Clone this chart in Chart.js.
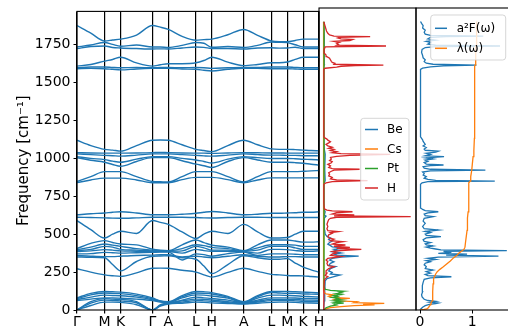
<!DOCTYPE html>
<html>
<head>
<meta charset="utf-8">
<script src="https://cdn.jsdelivr.net/npm/chart.js@4/dist/chart.umd.min.js"></script>
<style>
html,body{margin:0;padding:0;background:#fff;overflow:hidden;width:508px;height:330px;}
canvas{position:absolute;top:0;}
#c1{left:0;}
#c2{left:309px;}
#c3{left:406px;}
</style>
</head>
<body>
<canvas id="c1" width="340" height="330"></canvas>
<canvas id="c2" width="117" height="330"></canvas>
<canvas id="c3" width="110" height="330"></canvas>
<script>
// ---------- k-path (x values of the band structure) ----------
const kPath = [0, 0.5774, 1.1547, 1.4881, 1.8214, 2.4881, 3.1547, 3.4856, 3.8164, 4.3938, 4.9711, 5.3045, 5.6378, 6.3045, 6.9711, 7.5485, 8.1258, 8.4567, 8.7875, 9.1209, 9.4542, 9.7851, 10.1159];
const hsPos = [0, 1.1547, 1.8214, 3.1547, 3.8164, 4.9711, 5.6378, 6.9711, 8.1258, 8.7875, 9.4542, 10.1159];
const hsLabels = ['Γ','M','K','Γ','A','L','H','A','L','M','K','H'];
const freqTicks = [0, 250, 500, 750, 1000, 1250, 1500, 1750];
const lambdaTicks = [0, 1];

// ---------- phonon bands (cm^-1) at each kPath point ----------
const t1 = [1877,1827,1775,1781,1787,1814,1877,1866,1851,1805,1780,1784,1787,1816,1851,1812,1775,1770,1770,1778,1787,1787,1787];
const t2 = [1735,1748,1765,1752,1740,1748,1735,1735,1732,1746,1765,1760,1733,1738,1732,1746,1768,1766,1764,1750,1735,1735,1735];
const t3 = [1725,1738,1742,1732,1729,1725,1722,1723,1722,1729,1735,1733,1725,1725,1722,1729,1730,1728,1729,1733,1725,1725,1725];
const t4 = [1609,1620,1642,1653,1668,1630,1609,1618,1625,1625,1631,1646,1668,1635,1612,1620,1631,1631,1636,1653,1668,1668,1668];
const t5 = [1598,1603,1603,1600,1598,1600,1598,1600,1600,1598,1600,1598,1594,1598,1600,1600,1603,1603,1603,1600,1598,1598,1598];
const t6 = [1592,1594,1592,1588,1584,1590,1594,1595,1595,1590,1588,1582,1577,1588,1595,1594,1592,1592,1592,1590,1588,1588,1588];

const g1 = [1120,1085,1060,1055,1048,1085,1120,1122,1120,1090,1060,1052,1045,1085,1120,1090,1063,1060,1060,1058,1055,1052,1050];
const g2 = [1038,1036,1035,1035,1035,1036,1038,1040,1038,1036,1035,1035,1033,1036,1038,1037,1036,1036,1035,1035,1035,1035,1035];
const g3 = [1030,1025,1020,1018,1015,1022,1030,1030,1030,1025,1020,1017,1015,1022,1030,1025,1022,1022,1020,1020,1018,1018,1017];
const g4 = [1012,1000,992,982,975,995,1012,1012,1012,1000,990,980,970,995,1012,1005,1000,1000,1000,998,995,993,990];
const g5 = [1005,988,975,960,948,980,1005,1005,1005,985,962,952,940,980,1005,990,975,975,975,972,968,962,957];
const g6 = [848,880,913,913,913,880,848,846,845,880,913,913,913,880,845,880,913,913,913,913,915,918,920];
const g7 = [840,858,870,870,870,858,840,840,840,860,875,875,875,860,840,858,872,872,872,872,872,872,872];

const c1b = [628,635,640,645,648,640,628,628,628,632,638,645,650,640,628,632,638,638,640,642,645,645,648];
const c2b = [612,610,608,606,605,608,612,612,612,612,610,608,607,610,612,612,610,610,610,610,610,610,610];
const c3b = [590,530,475,500,520,505,590,578,565,515,472,500,520,505,565,515,475,475,478,500,520,520,520];
const c4b = [405,440,458,445,435,430,402,395,392,430,462,445,428,415,392,430,462,462,462,455,448,448,450];
const c5b = [398,415,435,428,420,405,395,392,390,405,430,425,413,405,390,410,430,430,430,428,420,420,420];
const c6b = [392,400,420,415,400,395,390,389,388,390,420,410,395,395,388,395,420,420,420,410,400,400,400];
const c7b = [385,390,398,395,390,388,385,385,385,375,400,392,388,388,385,375,400,400,398,392,388,388,390];
const c8b = [370,372,380,378,375,378,380,382,382,330,370,365,355,372,382,360,370,370,370,368,365,365,365];
const c9b = [360,355,352,352,355,360,362,365,365,350,355,350,345,355,365,355,350,350,352,352,350,350,350];
const c10b = [350,348,345,300,258,320,355,356,358,345,335,290,240,300,358,345,335,335,340,310,283,265,250];
const c11b = [272,250,232,226,222,245,275,276,275,262,250,232,217,248,275,255,235,232,228,226,225,221,217];

const l1 = [80,110,122,120,118,105,80,60,55,95,122,120,115,90,55,95,122,122,122,120,118,116,113];
const l2 = [74,100,112,110,108,95,74,58,52,88,112,110,106,85,52,88,115,112,110,110,106,105,104];
const l3 = [68,85,98,96,94,85,68,56,50,80,100,98,92,78,50,78,98,98,96,94,90,88,86];
const l4 = [62,72,80,80,78,72,62,52,48,65,85,80,76,65,48,65,80,80,80,79,77,76,76];
const l5 = [0,55,75,72,70,55,0,35,45,60,72,70,66,55,45,58,70,70,70,69,66,65,64];
const l6 = [0,45,65,63,60,48,0,30,42,52,62,60,57,48,42,52,62,62,62,60,57,56,55];
const l7 = [0,30,52,52,50,35,0,25,40,45,52,50,47,43,40,45,50,52,52,50,47,46,45];

const bandList = [t1,t2,t3,t4,t5,t6,g1,g2,g3,g4,g5,g6,g7,c1b,c2b,c3b,c4b,c5b,c6b,c7b,c8b,c9b,c10b,c11b,l1,l2,l3,l4,l5,l6,l7];

// ---------- projected phonon DOS: [frequency, DOS] ----------
const beDos = [[0,0],[20,0.004],[60,0.01],[120,0.015],[190,0.02],[205,0.04],[217,0.12],[228,0.19],[235,0.08],[245,0.1],[255,0.06],[270,0.08],[283,0.14],[290,0.06],[304,0.08],[315,0.12],[326,0.07],[337,0.1],[345,0.2],[352,0.4],[358,0.15],[365,0.12],[372,0.2],[380,0.1],[390,0.15],[396,0.12],[404,0.25],[412,0.1],[420,0.08],[430,0.05],[440,0.07],[450,0.1],[460,0.06],[470,0.08],[480,0.04],[495,0.02],[520,0.015],[560,0.01],[600,0.012],[612,0.03],[620,0.01],[640,0.02],[660,0.005],[820,0.003],[844,0.02],[918,0.015],[1015,0.02],[1050,0.01],[1130,0.003],[1590,0.003],[1598,0.01],[1722,0.01],[1783,0.008],[1880,0.002]];
const csDos = [[0,0],[8,0.03],[15,0.08],[22,0.2],[28,0.35],[33,0.58],[38,0.45],[43,0.69],[48,0.35],[54,0.38],[60,0.15],[66,0.12],[72,0.2],[76,0.3],[82,0.1],[90,0.06],[98,0.11],[105,0.03],[115,0.01],[130,0.004],[1880,0.002]];
const ptDos = [[0,0],[5,0.01],[15,0.03],[25,0.08],[33,0.15],[40,0.12],[45,0.23],[50,0.14],[54,0.2],[60,0.12],[65,0.21],[70,0.14],[76,0.17],[82,0.1],[88,0.16],[95,0.12],[100,0.2],[106,0.14],[112,0.21],[118,0.18],[122,0.23],[128,0.08],[135,0.02],[150,0.01],[200,0.008],[400,0.007],[650,0.007],[1000,0.007],[1880,0.007]];
const hDos = [[0,0],[20,0.003],[60,0.005],[120,0.006],[190,0.01],[205,0.02],[217,0.05],[225,0.02],[240,0.04],[255,0.03],[270,0.06],[283,0.12],[290,0.05],[304,0.04],[315,0.05],[326,0.03],[337,0.05],[348,0.2],[356,0.08],[364,0.1],[372,0.15],[381,0.1],[388,0.2],[396,0.43],[402,0.15],[409,0.3],[416,0.12],[424,0.25],[430,0.1],[440,0.15],[446,0.22],[452,0.08],[462,0.12],[470,0.06],[480,0.05],[490,0.06],[500,0.1],[505,0.08],[511,0.17],[518,0.05],[530,0.04],[545,0.05],[560,0.04],[575,0.05],[590,0.06],[598,0.08],[605,0.15],[609,0.99],[614,0.12],[620,0.35],[626,0.1],[635,0.15],[641,0.33],[646,0.1],[652,0.04],[660,0.01],[700,0.005],[820,0.005],[830,0.03],[838,0.1],[844,0.5],[848,0.15],[855,0.08],[865,0.1],[875,0.06],[885,0.07],[895,0.06],[905,0.09],[913,0.12],[918,0.41],[922,0.1],[930,0.06],[940,0.08],[950,0.05],[960,0.09],[968,0.1],[975,0.07],[985,0.09],[995,0.08],[1002,0.15],[1008,0.3],[1015,0.76],[1020,0.2],[1026,0.1],[1033,0.15],[1040,0.08],[1048,0.12],[1055,0.06],[1062,0.1],[1070,0.05],[1080,0.03],[1090,0.06],[1098,0.08],[1108,0.05],[1115,0.04],[1125,0.01],[1135,0.005],[1570,0.005],[1577,0.02],[1584,0.15],[1590,0.2],[1594,0.36],[1598,0.68],[1603,0.12],[1609,0.13],[1615,0.1],[1622,0.09],[1631,0.08],[1642,0.07],[1653,0.04],[1664,0.03],[1675,0.01],[1700,0.008],[1716,0.02],[1722,0.71],[1727,0.15],[1733,0.17],[1740,0.15],[1746,0.18],[1752,0.12],[1758,0.3],[1764,0.33],[1768,0.2],[1775,0.16],[1779,0.18],[1783,0.53],[1787,0.12],[1794,0.07],[1805,0.05],[1820,0.035],[1840,0.025],[1860,0.015],[1880,0.006]];

// ---------- Eliashberg function and lambda: [frequency, value] ----------
const a2f = [[0,0],[8,0.02],[18,0.05],[28,0.1],[36,0.18],[42,0.3],[46,0.35],[50,0.2],[56,0.3],[62,0.15],[70,0.08],[85,0.04],[100,0.03],[120,0.05],[140,0.04],[160,0.05],[180,0.06],[200,0.08],[210,0.2],[217,0.6],[224,0.15],[232,0.1],[240,0.2],[250,0.12],[261,0.25],[270,0.1],[283,0.12],[295,0.08],[305,0.1],[315,0.2],[322,0.12],[330,0.3],[337,0.15],[345,0.35],[352,1.5],[358,0.5],[364,0.9],[370,0.35],[376,0.6],[382,0.45],[387,1.66],[392,0.4],[398,0.3],[404,0.2],[410,0.12],[418,0.25],[425,0.12],[432,0.1],[440,0.2],[448,0.08],[458,0.06],[470,0.12],[478,0.4],[486,0.12],[495,0.1],[505,0.2],[512,0.1],[522,0.35],[530,0.08],[545,0.05],[565,0.1],[580,0.06],[598,0.08],[609,0.25],[615,0.1],[625,0.08],[634,0.15],[641,0.35],[648,0.1],[656,0.05],[665,0.015],[700,0.01],[820,0.01],[830,0.04],[837,0.15],[841,1.43],[846,0.3],[852,0.15],[860,0.08],[870,0.12],[880,0.06],[890,0.08],[900,0.05],[908,0.2],[913,1.25],[918,0.2],[926,0.08],[935,0.06],[942,0.2],[946,0.45],[952,0.12],[962,0.08],[970,0.15],[978,0.1],[985,0.25],[992,0.12],[1000,0.46],[1006,0.1],[1015,0.2],[1022,0.12],[1030,0.3],[1036,0.35],[1042,0.1],[1050,0.08],[1060,0.12],[1070,0.06],[1080,0.1],[1090,0.08],[1100,0.06],[1110,0.05],[1120,0.03],[1130,0.01],[1570,0.01],[1578,0.05],[1586,0.2],[1592,0.45],[1598,1.08],[1603,0.25],[1610,0.12],[1620,0.08],[1632,0.1],[1645,0.06],[1660,0.05],[1680,0.03],[1700,0.04],[1712,0.1],[1718,0.3],[1722,1.53],[1727,0.3],[1735,0.15],[1745,0.2],[1752,0.12],[1760,0.3],[1768,0.15],[1778,0.2],[1783,0.5],[1787,1.21],[1792,0.2],[1800,0.1],[1812,0.08],[1825,0.1],[1840,0.05],[1855,0.06],[1870,0.03],[1882,0.01]];
const lam = [[0,0],[4,0.08],[8,0.13],[15,0.16],[25,0.18],[35,0.2],[45,0.21],[60,0.23],[80,0.24],[120,0.245],[170,0.25],[205,0.26],[220,0.28],[235,0.3],[250,0.33],[265,0.38],[280,0.44],[300,0.51],[320,0.58],[340,0.64],[355,0.7],[370,0.74],[385,0.8],[395,0.84],[410,0.86],[440,0.87],[480,0.885],[520,0.9],[560,0.905],[600,0.91],[640,0.92],[660,0.93],[830,0.935],[841,0.96],[870,0.97],[913,0.99],[950,1.0],[1000,1.015],[1040,1.03],[1120,1.04],[1590,1.045],[1600,1.06],[1720,1.065],[1725,1.075],[1790,1.08],[1882,1.085]];

// ---------- helpers / plugins ----------
const FONT = 'DejaVu Sans';
const toXY = (pairs) => pairs.map(p => ({x: p[1], y: p[0]}));

const framePlugin = {
  id: 'frame',
  afterDraw(chart) {
    const {ctx, chartArea: a} = chart;
    ctx.save();
    ctx.strokeStyle = '#000';
    ctx.lineWidth = 1.1;
    ctx.strokeRect(a.left, a.top, a.right - a.left, a.bottom - a.top);
    ctx.restore();
  }
};

const mplLegend = {
  id: 'mplLegend',
  afterDraw(chart, args, o) {
    if (!o || !o.display) return;
    const ctx = chart.ctx, a = chart.chartArea;
    const x0 = a.left + o.x, y0 = a.top + o.y, w = o.w, h = o.h, r = 3;
    ctx.save();
    ctx.beginPath();
    ctx.moveTo(x0 + r, y0);
    ctx.arcTo(x0 + w, y0, x0 + w, y0 + h, r);
    ctx.arcTo(x0 + w, y0 + h, x0, y0 + h, r);
    ctx.arcTo(x0, y0 + h, x0, y0, r);
    ctx.arcTo(x0, y0, x0 + w, y0, r);
    ctx.closePath();
    ctx.fillStyle = 'rgba(255,255,255,0.8)';
    ctx.fill();
    ctx.strokeStyle = 'rgba(204,204,204,0.8)';
    ctx.lineWidth = 1;
    ctx.stroke();
    ctx.font = o.fontSize + 'px "' + FONT + '"';
    ctx.textBaseline = 'middle';
    ctx.textAlign = 'left';
    chart.data.datasets.forEach((ds, i) => {
      const cy = y0 + o.first + i * o.gap;
      ctx.strokeStyle = ds.borderColor;
      ctx.lineWidth = 1.5;
      ctx.beginPath();
      ctx.moveTo(x0 + o.hx, cy);
      ctx.lineTo(x0 + o.hx + o.hl, cy);
      ctx.stroke();
      ctx.fillStyle = '#000';
      ctx.fillText(ds.label, x0 + o.tx, cy + 0.5);
    });
    ctx.restore();
  }
};

const common = {
  responsive: false,
  animation: false,
  events: [],
  elements: { point: { radius: 0 } }
};

// ---------- panel 1: band structure ----------
new Chart(document.getElementById('c1'), {
  type: 'scatter',
  data: {
    datasets: bandList.map(b => ({
      data: b.map((f, i) => ({x: kPath[i], y: f})),
      showLine: true,
      borderColor: '#1f77b4',
      borderWidth: 1.4,
      pointRadius: 0,
      cubicInterpolationMode: 'monotone',
      fill: false
    }))
  },
  options: Object.assign({}, common, {
    layout: { padding: {left: 0, top: 8, right: 21, bottom: 0}, autoPadding: false },
    plugins: { legend: {display: false}, tooltip: {enabled: false} },
    scales: {
      x: {
        type: 'linear', min: 0, max: hsPos[hsPos.length - 1], z: 1,
        afterBuildTicks: s => { s.ticks = hsPos.map(v => ({value: v})); },
        afterFit: s => { s.height = 20; },
        grid: {color: '#000', lineWidth: 1.2, tickLength: 3.5, drawTicks: true, drawOnChartArea: true},
        border: {display: false},
        ticks: {callback: (v, i) => hsLabels[i], autoSkip: false, maxRotation: 0, padding: 0, color: '#000', font: {family: FONT, size: 14}}
      },
      y: {
        type: 'linear', min: 0, max: 1970,
        afterBuildTicks: s => { s.ticks = freqTicks.map(v => ({value: v})); },
        afterFit: s => { s.width = 77; },
        grid: {color: '#000', lineWidth: 1, tickLength: 3.5, drawOnChartArea: false},
        border: {display: false},
        ticks: {callback: v => String(v), color: '#000', padding: 3, font: {family: FONT, size: 14}},
        title: {display: true, text: 'Frequency [cm⁻¹]', color: '#000', font: {family: FONT, size: 15}, padding: {top: 15, bottom: 0}}
      }
    }
  }),
  plugins: [framePlugin]
});

// ---------- panel 2: projected DOS ----------
const dosStyle = {showLine: true, pointRadius: 0, borderWidth: 1.3, fill: false};
new Chart(document.getElementById('c2'), {
  type: 'scatter',
  data: {
    datasets: [
      Object.assign({label: 'Be', data: toXY(beDos), borderColor: '#1f77b4', order: 4}, dosStyle),
      Object.assign({label: 'Cs', data: toXY(csDos), borderColor: '#ff7f0e', order: 3}, dosStyle),
      Object.assign({label: 'Pt', data: toXY(ptDos), borderColor: '#2ca02c', order: 2}, dosStyle),
      Object.assign({label: 'H',  data: toXY(hDos),  borderColor: '#d62728', order: 1}, dosStyle)
    ]
  },
  options: Object.assign({}, common, {
    layout: { padding: {left: 10, top: 8, right: 10, bottom: 20}, autoPadding: false },
    plugins: {
      legend: {display: false}, tooltip: {enabled: false},
      mplLegend: {display: true, x: 41.7, y: 110.3, w: 48.3, h: 81.7, first: 11.2, gap: 19.5, hx: 4.3, hl: 13, tx: 26.3, fontSize: 12}
    },
    scales: {
      x: {type: 'linear', display: false, min: -0.05, max: 1.05},
      y: {type: 'linear', display: false, min: 0, max: 1970}
    }
  }),
  plugins: [framePlugin, mplLegend]
});

// ---------- panel 3: a2F and lambda ----------
new Chart(document.getElementById('c3'), {
  type: 'scatter',
  data: {
    datasets: [
      Object.assign({label: 'a²F(ω)', data: toXY(a2f), borderColor: '#1f77b4', order: 2}, dosStyle),
      Object.assign({label: 'λ(ω)', data: toXY(lam), borderColor: '#ff7f0e', order: 1}, dosStyle)
    ]
  },
  options: Object.assign({}, common, {
    layout: { padding: {left: 10, top: 8, right: 6, bottom: 0}, autoPadding: false },
    plugins: {
      legend: {display: false}, tooltip: {enabled: false},
      mplLegend: {display: true, x: 14.7, y: 7, w: 75, h: 45, first: 13.3, gap: 20, hx: 4.3, hl: 12, tx: 26, fontSize: 12}
    },
    scales: {
      x: {
        type: 'linear', min: -0.0765, max: 1.721,
        afterBuildTicks: s => { s.ticks = lambdaTicks.map(v => ({value: v})); },
        afterFit: s => { s.height = 20; },
        grid: {color: '#000', lineWidth: 1, tickLength: 3.5, drawOnChartArea: false},
        border: {display: false},
        ticks: {callback: v => String(v), autoSkip: false, maxRotation: 0, padding: 0, color: '#000', font: {family: FONT, size: 14}}
      },
      y: {type: 'linear', display: false, min: 0, max: 1970}
    }
  }),
  plugins: [framePlugin, mplLegend]
});
</script>
</body>
</html>
